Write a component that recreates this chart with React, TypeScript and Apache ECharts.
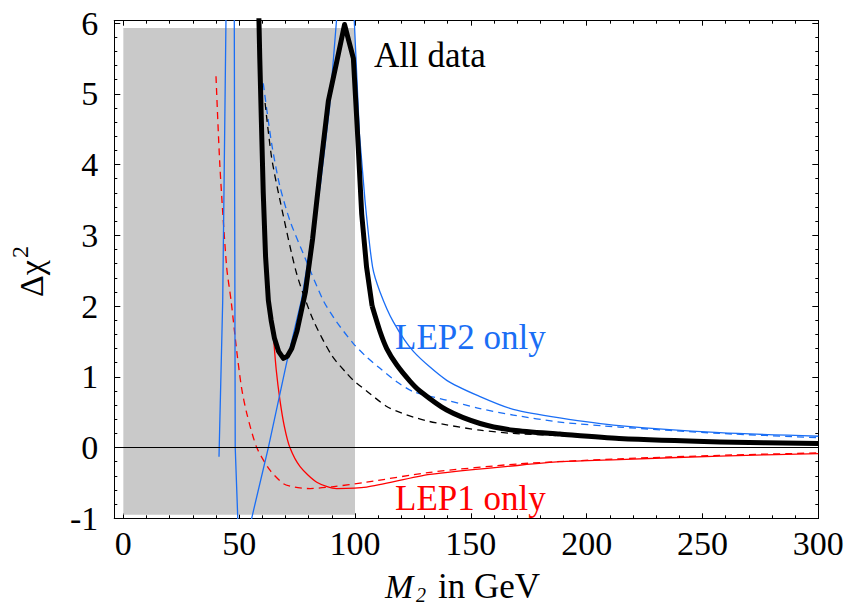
import React, { useEffect, useRef } from "react";
import * as echarts from "echarts";

// ---------- data ----------
const xTickLabels = [0, 50, 100, 150, 200, 250, 300];
const xMinorTicks = [10, 20, 30, 40, 60, 70, 80, 90, 110, 120, 130, 140, 160, 170, 180, 190, 210, 220, 230, 240, 260, 270, 280, 290];
const yTickLabels = [-1, 0, 1, 2, 3, 4, 5, 6];
const yMinorTicks = [-0.8, -0.6, -0.4, -0.2, 0.2, 0.4, 0.6, 0.8, 1.2, 1.4, 1.6, 1.8, 2.2, 2.4, 2.6, 2.8, 3.2, 3.4, 3.6, 3.8, 4.2, 4.4, 4.6, 4.8, 5.2, 5.4, 5.6, 5.8];

const excludedX = [0, 100];
const excludedY = [-0.95, 5.93];

// All data (thick black, solid)
const allData: number[][] = [
  [58.3, 6.4], [58.9, 5.5], [59.6, 4.6], [60.4, 3.6], [61.4, 2.7], [62.6, 2.08], [63.8, 1.8],
  [65.2, 1.55], [67.0, 1.36], [69.1, 1.26], [70.8, 1.29], [72.7, 1.4], [75.0, 1.65], [78.6, 2.2],
  [81.7, 2.95], [84.9, 3.9], [88.5, 4.9], [92.1, 5.45], [95.5, 5.98], [99.3, 5.5], [101.0, 4.5],
  [102.9, 3.3], [105.0, 2.55], [107.4, 2.0], [110.8, 1.64], [113.7, 1.4], [118.0, 1.17],
  [123.7, 0.94], [128.0, 0.8], [139.6, 0.53], [154.0, 0.34], [168.3, 0.245], [188.4, 0.19],
  [214.0, 0.127], [257.5, 0.08], [300.0, 0.057],
];
const allDataTailFrom = 107.4;
// All data (black, dashed)
const allDataDashed: number[][] = [
  [61.2, 4.87], [64.0, 4.1], [67.6, 3.5], [74.8, 2.46], [82.0, 1.8], [90.0, 1.3], [96.4, 1.05],
  [99.3, 0.95], [105.0, 0.8], [113.7, 0.58], [120.0, 0.49], [125.2, 0.43], [132.0, 0.37],
  [139.6, 0.32], [154.0, 0.245], [168.3, 0.2], [197.0, 0.155], [214.0, 0.12], [257.5, 0.075],
  [300.0, 0.05],
];
// LEP2 only (blue, solid)
const lep2Solid: number[][] = [
  [41.3, -0.13], [42.9, 2.08], [44.3, 6.03], [44.9, 8.5], [47.4, 8.5], [47.9, 6.03], [48.3, 0],
  [49.4, -1], [50.2, -2.5], [54.6, -2.5], [55.4, -1], [62.6, 0], [70.5, 1.2], [77.0, 2.1],
  [85.0, 3.7], [89.0, 4.8], [92.0, 6.03], [93.5, 7.5], [98.5, 7.5], [99.7, 6.03], [101.9, 4.44],
  [104.3, 3.5], [107.6, 2.55], [110.8, 2.2], [116.5, 1.78], [125.2, 1.36], [139.6, 0.95],
  [154.0, 0.72], [168.3, 0.54], [188.4, 0.42], [214.0, 0.31], [257.5, 0.21], [300.0, 0.16],
];
const lep2TailFrom = 104.3;
// LEP2 only (blue, dashed)
const lep2Dashed: number[][] = [
  [60.4, 5.15], [64.0, 4.3], [67.6, 3.69], [72.0, 3.2], [77.7, 2.74], [86.3, 2.08], [92.0, 1.78],
  [99.3, 1.47], [105.0, 1.28], [110.8, 1.12], [118.0, 0.93], [125.2, 0.79], [139.6, 0.67],
  [154.0, 0.55], [168.3, 0.46], [188.4, 0.36], [214.0, 0.29], [257.5, 0.2], [300.0, 0.14],
];
// LEP1 only (red, solid)
const lep1Solid: number[][] = [
  [64.2, 1.85], [64.7, 1.61], [66.0, 1.1], [67.6, 0.67], [69.5, 0.3], [71.9, 0], [76.3, -0.27],
  [83.5, -0.49], [92.1, -0.58], [105.0, -0.56], [132.4, -0.38], [171.0, -0.25], [188.4, -0.2],
  [214.0, -0.17], [257.5, -0.12], [300.0, -0.085],
];
// LEP1 only (red, dashed)
const lep1Dashed: number[][] = [
  [40.0, 5.25], [41.7, 3.97], [44.6, 2.55], [46.5, 2.08], [48.9, 1.38], [51.0, 0.85],
  [53.3, 0.48], [57.6, 0], [63.3, -0.32], [69.1, -0.51], [74.0, -0.56], [80.6, -0.58],
  [90.0, -0.555], [105.0, -0.49], [132.4, -0.35], [171.0, -0.23], [214.0, -0.16],
  [257.5, -0.11], [300.0, -0.076],
];

// ---------- styles ----------
const SERIF = '"Liberation Serif", "Times New Roman", serif';
const BLUE = "#1a6ef5";
const RED = "#ff0000";
const GRAY = "#c9c9c9";

const X_MIN = -3.9;
const X_MAX = 300;
const Y_MIN = -1;
const Y_MAX = 6.034;

function makeXAxis(position: "top" | "bottom", values: number[], len: number, labels: boolean) {
  return {
    type: "value",
    position,
    min: X_MIN,
    max: X_MAX,
    splitLine: { show: false },
    axisLine: { show: true, onZero: false, lineStyle: { color: "#000", width: 1 } },
    axisTick: { show: true, inside: true, length: len, customValues: values, lineStyle: { color: "#000", width: 1 } },
    axisLabel: labels
      ? { show: true, customValues: values, margin: 8, color: "#000", fontSize: 34, fontFamily: SERIF }
      : { show: false },
  };
}

function makeYAxis(position: "left" | "right", values: number[], len: number, labels: boolean) {
  return {
    type: "value",
    position,
    min: Y_MIN,
    max: Y_MAX,
    splitLine: { show: false },
    axisLine: { show: true, onZero: false, lineStyle: { color: "#000", width: 1 } },
    axisTick: { show: true, inside: true, length: len, customValues: values, lineStyle: { color: "#000", width: 1 } },
    axisLabel: labels
      ? { show: true, customValues: values, margin: 16, color: "#000", fontSize: 34, fontFamily: SERIF }
      : { show: false },
  };
}

function lineSeries(
  name: string,
  data: number[][],
  color: string,
  width: number,
  dashed: boolean,
  z: number,
  smooth: number | boolean
) {
  return {
    name,
    type: "line",
    data,
    xAxisIndex: 0,
    yAxisIndex: 0,
    symbol: "none",
    showSymbol: false,
    clip: true,
    smooth,
    z,
    lineStyle: { color, width, type: dashed ? [7, 5] : "solid", cap: "butt", join: "round" },
  };
}

export default function App() {
  const ref = useRef<HTMLDivElement>(null);

  useEffect(() => {
    if (!ref.current) return;
    const chart = echarts.init(ref.current, undefined, { renderer: "svg" });

    const allHead = allData.filter((p) => p[0] <= allDataTailFrom);
    const allTail = allData.filter((p) => p[0] >= allDataTailFrom);
    const lep2Head = lep2Solid.filter((p) => p[0] <= lep2TailFrom);
    const lep2Tail = lep2Solid.filter((p) => p[0] >= lep2TailFrom);

    const option: any = {
      animation: false,
      backgroundColor: "#fff",
      grid: { left: 114.3, top: 20.7, width: 704, height: 497.6, containLabel: false },
      xAxis: [
        makeXAxis("bottom", xTickLabels, 5, true),
        makeXAxis("bottom", xMinorTicks, 3, false),
        makeXAxis("top", xTickLabels, 5, false),
        makeXAxis("top", xMinorTicks, 3, false),
      ],
      yAxis: [
        makeYAxis("left", yTickLabels, 6, true),
        makeYAxis("left", yMinorTicks, 3, false),
        makeYAxis("right", yTickLabels, 6, false),
        makeYAxis("right", yMinorTicks, 3, false),
      ],
      series: [
        {
          name: "excluded",
          type: "line",
          data: [],
          z: 1,
          silent: true,
          markArea: {
            silent: true,
            itemStyle: { color: GRAY, opacity: 1 },
            data: [[{ xAxis: excludedX[0], yAxis: excludedY[0] }, { xAxis: excludedX[1], yAxis: excludedY[1] }]],
          },
        },
        {
          name: "zero",
          type: "line",
          data: [],
          z: 2,
          silent: true,
          markLine: {
            silent: true,
            symbol: "none",
            label: { show: false },
            lineStyle: { color: "#000", width: 1, type: "solid" },
            data: [{ yAxis: 0 }],
          },
        },
        lineSeries("LEP1 dashed", lep1Dashed, RED, 1.3, true, 3, 0.25),
        lineSeries("LEP1 solid", lep1Solid, RED, 1.3, false, 3, 0.25),
        lineSeries("LEP2 dashed", lep2Dashed, BLUE, 1.3, true, 4, 0.25),
        lineSeries("LEP2 solid", lep2Head, BLUE, 1.3, false, 4, false),
        lineSeries("LEP2 solid tail", lep2Tail, BLUE, 1.3, false, 4, 0.25),
        lineSeries("All dashed", allDataDashed, "#000", 1.3, true, 5, 0.25),
        lineSeries("All data", allHead, "#000", 5, false, 6, false),
        lineSeries("All data tail", allTail, "#000", 5, false, 6, 0.25),
      ],
      graphic: [
        {
          type: "text", x: 374, y: 55.4, z: 10,
          style: { text: "All data", font: `35px ${SERIF}`, fill: "#000", align: "left", verticalAlign: "middle" },
        },
        {
          type: "text", x: 395, y: 337.4, z: 10,
          style: { text: "LEP2 only", font: `35px ${SERIF}`, fill: BLUE, align: "left", verticalAlign: "middle" },
        },
        {
          type: "text", x: 395, y: 498.8, z: 10,
          style: { text: "LEP1 only", font: `35px ${SERIF}`, fill: RED, align: "left", verticalAlign: "middle" },
        },
        {
          type: "text", x: 385, y: 586.7, z: 10,
          style: { text: "M", font: `italic 34px ${SERIF}`, fill: "#000", align: "left", verticalAlign: "middle" },
        },
        {
          type: "text", x: 416, y: 595, z: 10,
          style: { text: "2", font: `italic 20px ${SERIF}`, fill: "#000", align: "left", verticalAlign: "middle" },
        },
        {
          type: "text", x: 438, y: 586.4, z: 10,
          style: { text: "in GeV", font: `35px ${SERIF}`, fill: "#000", align: "left", verticalAlign: "middle" },
        },
        {
          type: "group", x: 43, y: 297, rotation: Math.PI / 2, z: 10,
          children: [
            {
              type: "text", x: 0, y: -11.6,
              style: { text: "Δχ", font: `34px ${SERIF}`, fill: "#000", align: "left", verticalAlign: "middle" },
            },
            {
              type: "text", x: 39, y: -23.2,
              style: { text: "2", font: `24px ${SERIF}`, fill: "#000", align: "left", verticalAlign: "middle" },
            },
          ],
        },
      ],
    };

    chart.setOption(option);
    return () => chart.dispose();
  }, []);

  return (
    <div
      ref={ref}
      style={{ position: "fixed", left: 0, top: 0, width: 851, height: 607, background: "#fff" }}
    />
  );
}
